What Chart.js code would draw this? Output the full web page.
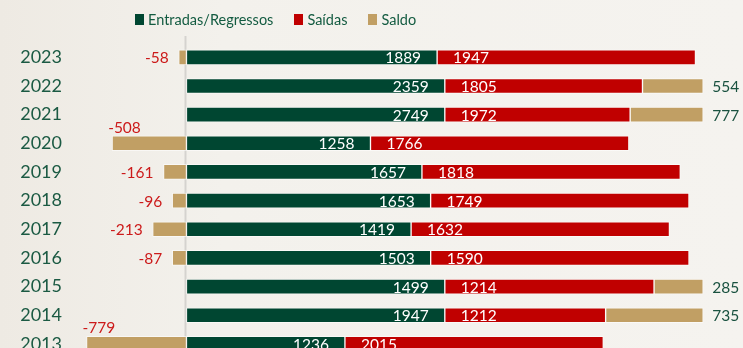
<!DOCTYPE html>
<html>
<head>
<meta charset="utf-8">
<script src="https://cdn.jsdelivr.net/npm/chart.js@4.4.1/dist/chart.umd.min.js"></script>
<style>
body{margin:0;overflow:hidden;background:linear-gradient(90deg,#eeeae3 0%,#f3f1ec 30%,#f5f3ef 100%);font-family:Lato,sans-serif}
#wrap{position:relative;width:743px;height:348px;overflow:hidden}
#legend{position:absolute;left:135px;top:10px;display:flex;align-items:center;font-size:14.5px;line-height:19px;color:#135b41}
#legend .item{display:flex;align-items:center;margin-right:21px}
#legend .box{width:9px;height:11px;margin-right:4px}
</style>
</head>
<body>
<div id="wrap">
<div id="legend"></div>
<canvas id="chart" width="743" height="387"></canvas>
</div>
<script>
const years=['2023','2022','2021','2020','2019','2018','2017','2016','2015','2014','2013']
const entradas=[1889,2359,2749,1258,1657,1653,1419,1503,1499,1947,1236]
const saidas=[1947,1805,1972,1766,1818,1749,1632,1590,1214,1212,2015]
const saldo=[-58,554,777,-508,-161,-96,-213,-87,285,735,-779]

const green='#004631'
const red='#c00000'
const tan='#c19f64'

// every row is drawn as a share of |entradas|+|saidas|+|saldo|
function share(arr){
return arr.map((v,i)=>v/(entradas[i]+saidas[i]+Math.abs(saldo[i])))
}

/* zero line */
const zeroLine={
id:'zeroLine',
beforeDatasetsDraw(chart){
const ctx=chart.ctx
const x=Math.round(chart.scales.x.getPixelForValue(0))-0.5
ctx.save()
ctx.strokeStyle='#d5d3cf'
ctx.lineWidth=2
ctx.beginPath()
ctx.moveTo(x,chart.chartArea.top-7)
ctx.lineTo(x,chart.chartArea.bottom)
ctx.stroke()
ctx.restore()
}
}

/* value labels */
const valueLabels={
id:'valueLabels',
afterDatasetsDraw(chart){
const ctx=chart.ctx
const mE=chart.getDatasetMeta(0)
const mS=chart.getDatasetMeta(1)
const mB=chart.getDatasetMeta(2)
ctx.save()
ctx.font='15.5px Lato'
ctx.textBaseline='middle'
years.forEach((yr,i)=>{
const e=mE.data[i],s=mS.data[i],b=mB.data[i]
const y=e.y+1
ctx.fillStyle='#ffffff'
ctx.textAlign='right'
ctx.fillText(String(entradas[i]),e.x-16,y)
ctx.textAlign='left'
ctx.fillText(String(saidas[i]),s.base+16,y)
const txt=String(saldo[i])
if(saldo[i]>=0){
ctx.fillStyle='#1a5240'
ctx.textAlign='left'
ctx.fillText(txt,b.x+9,y)
}else{
ctx.fillStyle='#cc1a1a'
const w=ctx.measureText(txt).width
if(b.x-9-w<80){
// no room beside the bar, put it on top
ctx.textAlign='left'
ctx.fillText(txt,b.x-4,b.y-b.height/2-8)
}else{
ctx.textAlign='right'
ctx.fillText(txt,b.x-10,y)
}
}
})
ctx.restore()
}
}

const datasets=[
{label:'Entradas/Regressos',data:share(entradas),backgroundColor:green},
{label:'Saídas',data:share(saidas),backgroundColor:red},
{label:'Saldo',data:share(saldo),backgroundColor:tan}
]

// html legend
const legend=document.getElementById('legend')
datasets.forEach(d=>{
let item=document.createElement('div')
item.className='item'
let box=document.createElement('span')
box.className='box'
box.style.background=d.backgroundColor
let t=document.createElement('span')
t.innerText=d.label
item.appendChild(box)
item.appendChild(t)
legend.appendChild(item)
})

function drawChart(){
new Chart(document.getElementById('chart'),{
type:'bar',
data:{
labels:years,
datasets:datasets.map(d=>Object.assign({
borderColor:'rgba(255,255,255,0.55)',
borderWidth:1,
borderSkipped:false,
barThickness:15
},d))
},
options:{
indexAxis:'y',
responsive:false,
animation:false,
layout:{padding:{top:43,right:14,bottom:0,left:0}},
plugins:{legend:{display:false},tooltip:{enabled:false}},
scales:{
x:{
stacked:true,
display:false,
min:-0.206,
max:1.05
},
y:{
stacked:true,
grid:{display:false,drawTicks:false},
border:{display:false},
ticks:{
color:'#1b5a43',
font:{family:'Lato',size:18},
padding:18
},
afterFit(scale){scale.width=80}
}
}
},
plugins:[zeroLine,valueLabels]
})
}

// wait for Lato before drawing on the canvas
Promise.all([document.fonts.load('18px Lato'),document.fonts.load('15.5px Lato')]).then(drawChart,drawChart)
</script>
</body>
</html>
